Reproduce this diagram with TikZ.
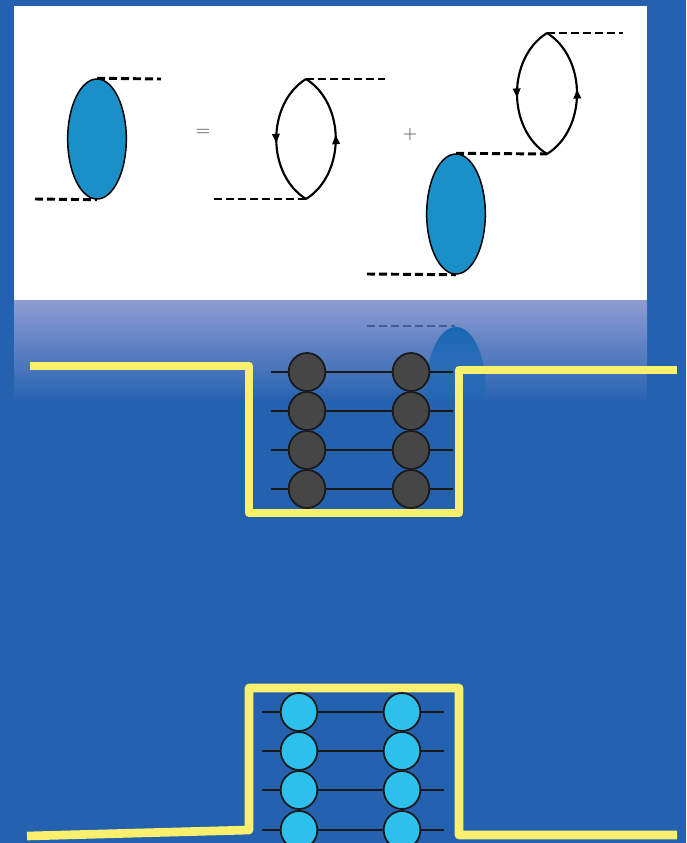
\documentclass[tikz,border=0pt]{standalone}
\usetikzlibrary{shapes.geometric,arrows.meta,decorations.markings,fadings}
\definecolor{bgblue}{RGB}{36,97,174}
\definecolor{blobblue}{RGB}{26,143,200}
\definecolor{gradtop}{RGB}{142,156,210}
\definecolor{gradbot}{RGB}{40,99,176}
\definecolor{reflblue}{RGB}{24,104,180}
\definecolor{refldash}{RGB}{70,92,150}
\definecolor{yline}{RGB}{250,240,110}
\definecolor{darkball}{RGB}{70,70,70}
\definecolor{lightball}{RGB}{45,192,236}
\tikzfading[name=fadedown, top color=transparent!0, bottom color=transparent!100]
\begin{document}
\begin{tikzpicture}[x=0.75pt,y=-0.75pt,
  blob/.style={ellipse,draw=black,line width=1.1pt,fill=blobblue,
    minimum width=44pt,minimum height=90pt,inner sep=0pt},
  prop/.style={line width=2.2pt,dash pattern=on 6pt off 3pt},
  fermion/.style={line width=1.6pt,postaction={decorate},
    decoration={markings,mark=at position 0.53 with {\arrow{Triangle[length=7pt,width=5.5pt]}}}},
  sign/.style={font=\fontsize{15}{18}\selectfont,inner sep=0pt,text=black!75},
  wall/.style={draw=yline,line width=6.5pt,line join=round},
  rung/.style={line width=1.4pt,draw=black!90},
  ball/.style={ellipse,draw=black!90,line width=1.3pt,minimum width=27.5pt,
    minimum height=28.5pt,inner sep=0pt}]
\useasboundingbox (0,0) rectangle (686,843);
\clip (0,0) rectangle (686,843);
% background and panels
\fill[bgblue] (0,0) rectangle (686,843);
\fill[white] (14,6) rectangle (647,300);
\shade[top color=gradtop,bottom color=gradbot] (14,300) rectangle (647,400);

% mirrored blob below the panel
\begin{scope}
  \clip (14,300) rectangle (647,400);
  \fill[reflblue,path fading=fadedown] (456,387) ellipse (29.5 and 60);
  \draw[prop,draw=refldash,line width=1.8pt] (367,326) -- (455,326);
\end{scope}

% ---- Dyson-type equation ----
\node[blob] (e1) at (97,139) {};
\coordinate (e1r) at (161,79);
\coordinate (e1l) at (35,199);
\draw[prop] (e1.north) -- (e1r);
\draw[prop] (e1l) -- (e1.south);

\node[sign] (eq) at (203,133) {=};

\coordinate (t1) at (306,79);
\coordinate (b1) at (306,199);
\coordinate (t1r) at (385,79);
\coordinate (b1l) at (214,199);
\draw[fermion] (t1) to[bend right=58] (b1);
\draw[fermion] (b1) to[bend right=58] (t1);
\draw[prop] (t1) -- (t1r);
\draw[prop] (b1l) -- (b1);

\node[sign] (plus) at (410,135) {+};

\node[blob] (e2) at (456,214) {};
\coordinate (e2l) at (367,274);
\coordinate (t2) at (547,33);
\coordinate (b2) at (547,154);
\coordinate (t2r) at (623,33);
\draw[prop] (e2l) -- (e2.south);
\draw[prop] (e2.north) -- (b2);
\draw[fermion] (t2) to[bend right=58] (b2);
\draw[fermion] (b2) to[bend right=58] (t2);
\draw[prop] (t2) -- (t2r);

% ---- potential well with dark pairs ----
\coordinate (w1) at (30,366);
\coordinate (w2) at (249,366);
\coordinate (w3) at (249,513);
\coordinate (w4) at (459,513);
\coordinate (w5) at (459,370);
\coordinate (w6) at (677,370);
\draw[wall] (w1) -- (w2) -- (w3) -- (w4) -- (w5) -- (w6);
\foreach \r/\y in {1/372,2/411,3/450,4/489}{
  \coordinate (ua\r) at (271,\y);
  \coordinate (ub\r) at (453,\y);
  \draw[rung] (ua\r) -- (ub\r);
  \node[ball,fill=darkball] (ud\r) at (307,\y) {};
  \node[ball,fill=darkball] (ue\r) at (411,\y) {};
}

% ---- barrier with light pairs ----
\coordinate (h1) at (27,836);
\coordinate (h2) at (249,830);
\coordinate (h3) at (249,688);
\coordinate (h4) at (459,688);
\coordinate (h5) at (459,835);
\coordinate (h6) at (677,835);
\draw[wall] (h1) -- (h2) -- (h3) -- (h4) -- (h5) -- (h6);
\foreach \r/\y in {1/712,2/751,3/790,4/830}{
  \coordinate (la\r) at (262,\y);
  \coordinate (lb\r) at (444,\y);
  \draw[rung] (la\r) -- (lb\r);
  \node[ball,fill=lightball] (ld\r) at (299,\y) {};
  \node[ball,fill=lightball] (le\r) at (402,\y) {};
}
\end{tikzpicture}
\end{document}
